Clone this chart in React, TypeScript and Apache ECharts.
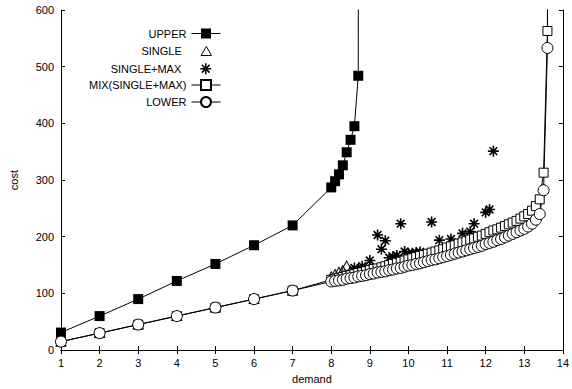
import React, { useEffect, useRef } from "react";
import * as echarts from "echarts";

// ---- data ----
const coarseDemand = [1, 2, 3, 4, 5, 6, 7];
const upperCoarse = [31, 60, 90, 122, 152, 185, 220];
const upperSteepDemand = [8, 8.1, 8.2, 8.3, 8.4, 8.5, 8.6, 8.7, 8.75];
const upperSteep = [287, 298, 310, 326, 349, 371, 395, 484, 5000];

const lowerCoarse = [15, 30, 45, 60, 75, 90, 105];
const mixCoarse = [15, 30, 45, 60, 75, 90, 105];
const singleCoarse = [15, 30, 45, 60, 75, 90, 105];
const starCoarse = [15, 30, 45, 60, 75, 90, 105];

const fineDemand = [
  8, 8.1, 8.2, 8.3, 8.4, 8.5, 8.6, 8.7, 8.8, 8.9,
  9, 9.1, 9.2, 9.3, 9.4, 9.5, 9.6, 9.7, 9.8, 9.9,
  10, 10.1, 10.2, 10.3, 10.4, 10.5, 10.6, 10.7, 10.8, 10.9,
  11, 11.1, 11.2, 11.3, 11.4, 11.5, 11.6, 11.7, 11.8, 11.9,
  12, 12.1, 12.2, 12.3, 12.4, 12.5, 12.6, 12.7, 12.8, 12.9,
  13, 13.1, 13.2, 13.3, 13.4,
];
const lowerFine = [
  121, 122, 123, 124, 126, 127, 128, 130, 131, 132,
  134, 135, 137, 138, 139, 141, 142, 144, 145, 147,
  149, 150, 152, 153, 155, 157, 159, 160, 162, 164,
  166, 168, 170, 172, 174, 176, 178, 180, 182, 184,
  187, 189, 191, 194, 196, 199, 202, 205, 208, 211,
  214, 218, 223, 230, 240,
];
const mixFine = [
  124, 126, 127, 129, 131, 132, 134, 136, 137, 139,
  141, 143, 144, 146, 148, 150, 152, 154, 156, 158,
  160, 162, 164, 166, 168, 170, 172, 174, 176, 178,
  181, 183, 185, 188, 190, 192, 195, 197, 200, 202,
  205, 208, 211, 213, 216, 219, 222, 225, 228, 232,
  236, 240, 246, 254, 266,
];
const tailDemand = [13.5, 13.6, 13.65];
const lowerTail = [282, 533, 5000];
const mixTail = [313, 563, 5000];

const singleFineDemand = [8, 8.1, 8.2, 8.3, 8.4, 8.5, 8.6, 8.7, 8.8, 8.9, 9];
const singleFine = [130, 134, 138, 141, 149, 140, 141, 143, 144, 145, 146];

const starDemand = [
  8.6, 8.8, 9, 9.2, 9.3, 9.4, 9.5, 9.6, 9.7, 9.8, 9.9, 10, 10.1, 10.2, 10.3,
  10.6, 10.8, 11.1, 11.4, 11.6, 11.7, 12, 12.1, 12.2,
];
const starCost = [
  145, 148, 158, 203, 178, 193, 163, 165, 167, 223, 174, 170, 171, 172, 173,
  226, 194, 196, 206, 209, 223, 243, 248, 351,
];

const xTicks = { min: 1, max: 14, interval: 1 };
const yTicks = { min: 0, max: 600, interval: 100 };

const zip = (xs: number[], ys: number[]) => xs.map((x, i) => [x, ys[i]]);

const FONT = "'Liberation Sans', Arial, Helvetica, sans-serif";
const TRIANGLE = "path://M5,0L10,8.66L0,8.66Z";
const STAR = "path://M5,0L5,10M0,5L10,5M1.5,1.5L8.5,8.5M8.5,1.5L1.5,8.5";

export default function App() {
  const ref = useRef<HTMLDivElement>(null);
  useEffect(() => {
    document.body.style.margin = "0";
    const chart = echarts.init(ref.current!, null, { renderer: "svg" });
    const axisCommon = {
      axisLine: { show: true, lineStyle: { color: "#000", width: 1 } },
      axisTick: { show: true, inside: true, length: 4, lineStyle: { color: "#000" } },
      splitLine: { show: false },
    };
    const legendCommon = {
      orient: "vertical",
      align: "right",
      right: 351,
      padding: 0,
      selectedMode: false,
      itemWidth: 29,
      lineStyle: { width: 1, color: "#000" },
      textStyle: { fontSize: 11, fontFamily: FONT, color: "#000" },
    };
    chart.setOption({
      animation: false,
      backgroundColor: "#fff",
      grid: { left: 57, right: 2, top: 10, bottom: 34 },
      xAxis: [
        {
          type: "value",
          ...xTicks,
          position: "bottom",
          ...axisCommon,
          axisLabel: { fontSize: 11, fontFamily: FONT, color: "#000", margin: 7 },
          name: "demand",
          nameLocation: "middle",
          nameGap: 21,
          nameTextStyle: { fontSize: 11, fontFamily: FONT, color: "#000" },
        },
        {
          type: "value",
          ...xTicks,
          position: "top",
          ...axisCommon,
          axisLabel: { show: false },
        },
      ],
      yAxis: [
        {
          type: "value",
          ...yTicks,
          position: "left",
          ...axisCommon,
          axisLabel: { fontSize: 11, fontFamily: FONT, color: "#000", margin: 7 },
          name: "cost",
          nameLocation: "middle",
          nameRotate: 90,
          nameGap: 42,
          nameTextStyle: { fontSize: 11, fontFamily: FONT, color: "#000" },
        },
        {
          type: "value",
          ...yTicks,
          position: "right",
          ...axisCommon,
          axisLabel: { show: false },
        },
      ],
      legend: [
        { ...legendCommon, data: ["UPPER"], top: 28, itemHeight: 12.5 },
        {
          ...legendCommon,
          data: [{ name: "SINGLE", icon: TRIANGLE }],
          right: 360,
          top: 45.5,
          itemHeight: 9,
          itemStyle: { color: "rgba(0,0,0,0)", borderColor: "#000", borderWidth: 1 },
          textStyle: { ...legendCommon.textStyle, padding: [0, 5, 0, 0] },
        },
        {
          ...legendCommon,
          data: [{ name: "SINGLE+MAX", icon: STAR }],
          right: 360,
          top: 62.5,
          itemHeight: 11,
          itemStyle: { color: "rgba(0,0,0,0)", borderColor: "#000", borderWidth: 1.5 },
          textStyle: { ...legendCommon.textStyle, padding: [0, 5, 0, 0] },
        },
        { ...legendCommon, data: ["MIX(SINGLE+MAX)"], top: 79, itemHeight: 12.5 },
        { ...legendCommon, data: ["LOWER"], top: 96, itemHeight: 12.5 },
      ],
      series: [
        {
          name: "UPPER",
          type: "line",
          data: [...zip(coarseDemand, upperCoarse), ...zip(upperSteepDemand, upperSteep)],
          symbol: "rect",
          symbolSize: 10,
          showAllSymbol: true,
          itemStyle: { color: "#000" },
          lineStyle: { color: "#000", width: 1 },
          clip: true,
        },
        {
          name: "SINGLE",
          type: "scatter",
          data: [...zip(coarseDemand, singleCoarse), ...zip(singleFineDemand, singleFine)],
          symbol: TRIANGLE,
          symbolSize: [10, 9],
          itemStyle: { color: "rgba(0,0,0,0)", borderColor: "#000", borderWidth: 1, opacity: 1 },
        },
        {
          name: "SINGLE+MAX",
          type: "scatter",
          data: [...zip(coarseDemand, starCoarse), ...zip(starDemand, starCost)],
          symbol: STAR,
          symbolSize: 11,
          itemStyle: { color: "rgba(0,0,0,0)", borderColor: "#000", borderWidth: 1.6, opacity: 1 },
        },
        {
          name: "MIX(SINGLE+MAX)",
          type: "line",
          data: [
            ...zip(coarseDemand, mixCoarse),
            ...zip(fineDemand, mixFine),
            ...zip(tailDemand, mixTail),
          ],
          symbol: "rect",
          symbolSize: 9,
          showAllSymbol: true,
          itemStyle: { color: "#fff", borderColor: "#000", borderWidth: 1 },
          lineStyle: { color: "#000", width: 1 },
          clip: true,
        },
        {
          name: "LOWER",
          type: "line",
          data: [
            ...zip(coarseDemand, lowerCoarse),
            ...zip(fineDemand, lowerFine),
            ...zip(tailDemand, lowerTail),
          ],
          symbol: "circle",
          symbolSize: 11,
          showAllSymbol: true,
          itemStyle: { color: "#fff", borderColor: "#000", borderWidth: 1 },
          lineStyle: { color: "#000", width: 1 },
          clip: true,
        },
      ],
    });
    return () => chart.dispose();
  }, []);
  return <div ref={ref} style={{ width: 572, height: 389 }} />;
}
